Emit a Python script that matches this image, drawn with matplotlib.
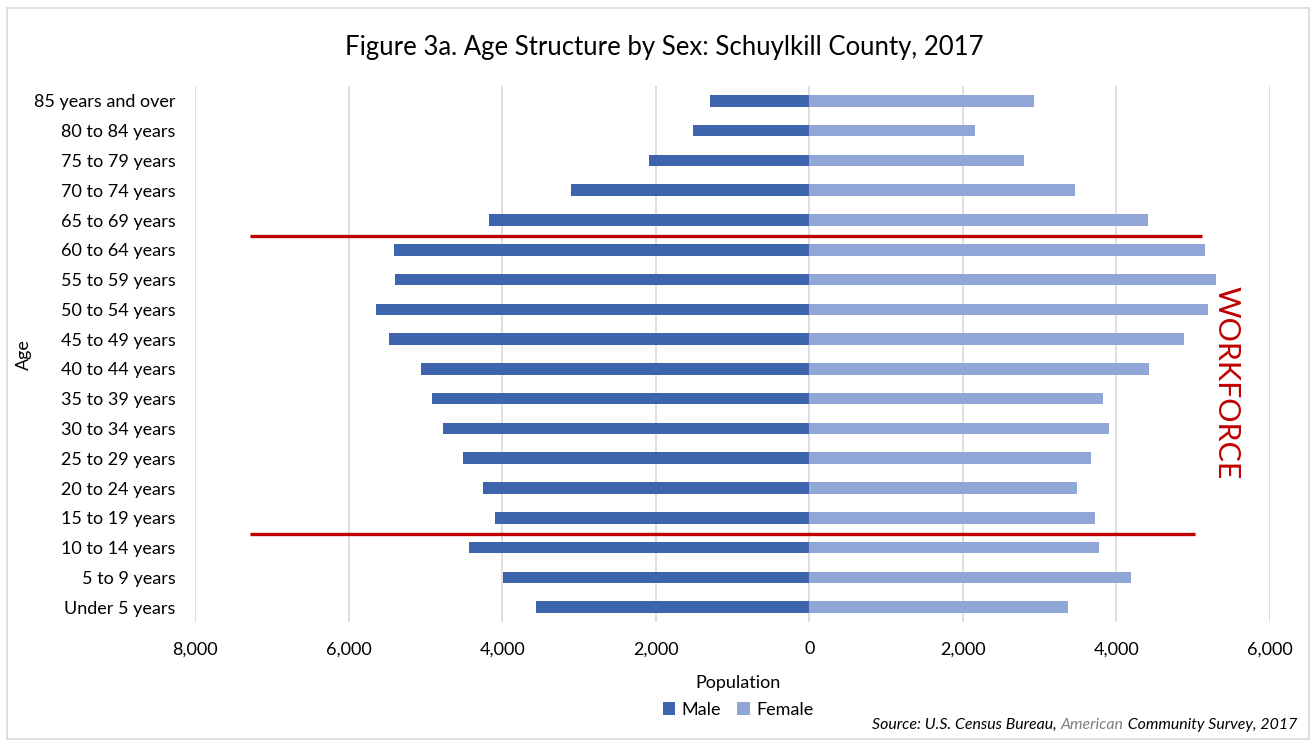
import matplotlib
matplotlib.use("Agg")
import matplotlib.pyplot as plt
from matplotlib.patches import Rectangle
import numpy as np

plt.rcParams['font.family'] = ['Lato', 'DejaVu Sans']

categories = ["Under 5 years", "5 to 9 years", "10 to 14 years", "15 to 19 years",
              "20 to 24 years", "25 to 29 years", "30 to 34 years", "35 to 39 years",
              "40 to 44 years", "45 to 49 years", "50 to 54 years", "55 to 59 years",
              "60 to 64 years", "65 to 69 years", "70 to 74 years", "75 to 79 years",
              "80 to 84 years", "85 years and over"]
male = [3553, 3984, 4436, 4097, 4245, 4515, 4768, 4915, 5063, 5480,
        5642, 5389, 5402, 4175, 3097, 2086, 1508, 1295]
female = [3363, 4193, 3772, 3715, 3490, 3672, 3898, 3820, 4430, 4883,
          5199, 5303, 5153, 4405, 3455, 2800, 2159, 2930]
xticks = [-8000, -6000, -4000, -2000, 0, 2000, 4000, 6000]
xtick_labels = ["8,000", "6,000", "4,000", "2,000", "0", "2,000", "4,000", "6,000"]

male_col = "#3D65AE"
female_col = "#8FA6D6"
red = "#C00000"

W, H = 1312, 744
fig = plt.figure(figsize=(W/100, H/100), dpi=100)
fig.patches.append(Rectangle((7/W, 5/H), 1302/W, 731/H, transform=fig.transFigure,
                             fill=False, edgecolor="#D9D9D9", linewidth=1.2))

ax = fig.add_axes([195/W, 1-622/H, (1270-195)/W, (622-86)/H])
y = np.arange(len(categories))
ax.barh(y, -np.array(male), height=0.39, color=male_col, label="Male", zorder=3)
ax.barh(y, female, height=0.39, color=female_col, label="Female", zorder=3)

ax.set_xlim(-8000, 6000)
ax.set_ylim(-0.5, len(categories) - 0.5)
ax.set_xticks(xticks)
ax.set_xticklabels(xtick_labels, fontsize=13, color="#000000")
ax.set_yticks(y)
ax.set_yticklabels(categories, fontsize=13)
ax.tick_params(axis='both', length=0)
ax.tick_params(axis='x', pad=14)
ax.tick_params(axis='y', pad=14)
ax.grid(axis='x', color="#D9D9D9", linewidth=1.2, zorder=0)
for s in ax.spines.values():
    s.set_visible(False)

ax.plot([-7279, 5117], [12.46, 12.46], color=red, linewidth=2.4, zorder=4, solid_capstyle='butt')
ax.plot([-7279, 5026], [2.45, 2.45], color=red, linewidth=2.4, zorder=4, solid_capstyle='butt')
ax.text(5440, 7.52, "WORKFORCE", rotation=270, ha='center', va='center',
        color=red, fontsize=22)

fig.text(664/W, 1-47/H, "Figure 3a. Age Structure by Sex: Schuylkill County, 2017",
         ha='center', va='center', fontsize=18.5)
fig.text(738/W, 1-683/H, "Population", ha='center', va='center', fontsize=13)
fig.text(24/W, 1-355/H, "Age", ha='center', va='center', rotation=90, fontsize=13)

leg = fig.legend(loc='center', bbox_to_anchor=(738/W, 1-710/H), ncol=2, frameon=False,
                 fontsize=13, handlelength=0.7, handleheight=0.7, handletextpad=0.35,
                 columnspacing=0.9)

src_y = 1 - 725/H
t3 = fig.text(1297/W, src_y, " Community Survey, 2017", ha='right', va='center',
              fontsize=11.4, style='italic', color="#000000")
fig.canvas.draw()
r = fig.canvas.get_renderer()
bb = t3.get_window_extent(r)
t2 = fig.text(bb.x0/W, src_y, "American", ha='right', va='center',
              fontsize=11.4, style='italic', color="#7F7F7F")
bb2 = t2.get_window_extent(r)
fig.text(bb2.x0/W, src_y, "Source: U.S. Census Bureau, ", ha='right', va='center',
         fontsize=11.4, style='italic', color="#000000")

fig.savefig("out.png", dpi=100)
